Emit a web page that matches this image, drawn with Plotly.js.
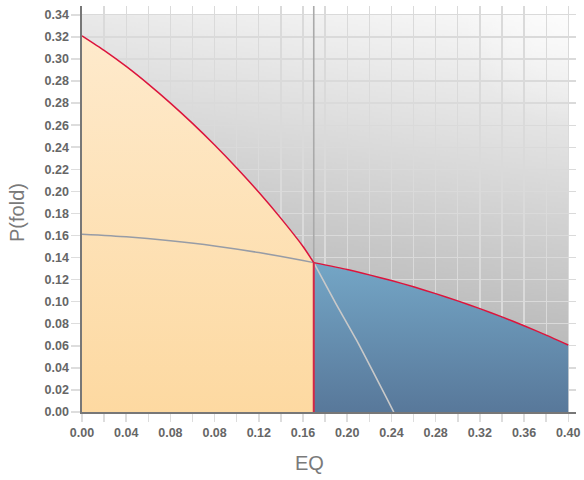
<!DOCTYPE html>
<html>
<head>
<meta charset="utf-8">
<script src="https://cdn.plot.ly/plotly-3.0.1.min.js"></script>
<style>
  html, body { margin: 0; padding: 0; background: #ffffff; }
  #chart { width: 584px; height: 480px; }
</style>
</head>
<body>
<div id="chart"></div>
<script>
// ---- data ----
const xTickLabels = ['0.00','0.04','0.08','0.08','0.12','0.16','0.20','0.24','0.28','0.32','0.36','0.40'];
const yTickLabels = ['0.00','0.02','0.04','0.06','0.08','0.10','0.12','0.14','0.16','0.18','0.20','0.22','0.24','0.26','0.28','0.28','0.30','0.32','0.34'];

// red boundary, left branch (folded region edge)
const redLeftX = [0, 0.02, 0.04, 0.06, 0.08, 0.10, 0.12, 0.14, 0.16, 0.18, 0.20, 0.2097];
const redLeftY = [0.341, 0.3278, 0.3132, 0.2972, 0.2800, 0.2616, 0.2420, 0.2212, 0.1992, 0.1755, 0.1500, 0.1354];

// red boundary, right branch
const redRightX = [0.2097, 0.24, 0.26, 0.28, 0.30, 0.32, 0.34, 0.36, 0.38, 0.40, 0.42, 0.44];
const redRightY = [0.1354, 0.1291, 0.1243, 0.1191, 0.1135, 0.1073, 0.1007, 0.0937, 0.0862, 0.0782, 0.0697, 0.0607];

// grey curve, left branch
const greyLeftX = [0, 0.04, 0.08, 0.12, 0.16, 0.20, 0.2097];
const greyLeftY = [0.1611, 0.1588, 0.1552, 0.1505, 0.1445, 0.1373, 0.1354];

// light grey curve, right branch
const greyRightX = [0.2097, 0.2296, 0.2483, 0.2821];
const greyRightY = [0.1354, 0.0985, 0.0653, 0];

// ---- derived ----
const X_MAX = 0.447, Y_MAX = 0.368;
const step = 0.02;
const xTickVals = [], xTickText = [];
for (let i = 0; i < xTickLabels.length * 2 - 1; i++) {
  xTickVals.push(+(i * step).toFixed(4));
  xTickText.push(i % 2 === 0 ? xTickLabels[i / 2] : '');
}
const yTickVals = yTickLabels.map((_, i) => +(i * step).toFixed(4));
const xBgMax = xTickVals[xTickVals.length - 1];
const yBgMax = yTickVals[yTickVals.length - 1];

const xb = redLeftX[redLeftX.length - 1];
const yb = redLeftY[redLeftY.length - 1];

function makeBackground() {
  const W = 486, H = 397;
  const c = document.createElement('canvas');
  c.width = W; c.height = H;
  const g = c.getContext('2d');
  const L = 476;
  const lg = g.createLinearGradient(W, 0, W - 0.175 * L, 0.985 * L);
  lg.addColorStop(0, 'rgb(250,250,250)');
  lg.addColorStop(1, 'rgb(158,158,158)');
  g.fillStyle = lg;
  g.fillRect(0, 0, W, H);
  const rg = g.createRadialGradient(W, 0, 0, W, 0, 110);
  rg.addColorStop(0, 'rgba(255,255,255,0.55)');
  rg.addColorStop(1, 'rgba(255,255,255,0)');
  g.fillStyle = rg;
  g.fillRect(0, 0, W, H);
  return c.toDataURL('image/png');
}

const traces = [
  { // orange (folded) area
    x: redLeftX.concat([xb]), y: redLeftY.concat([0]),
    type: 'scatter', mode: 'lines', fill: 'tozeroy',
    line: { width: 0, color: 'rgba(0,0,0,0)' },
    fillgradient: { type: 'vertical', start: 0, stop: Math.max(...redLeftY),
      colorscale: [[0, '#fdd9a1'], [1, '#feeacc']] },
    hoverinfo: 'skip'
  },
  { // blue (unfolded) area
    x: redRightX, y: redRightY,
    type: 'scatter', mode: 'lines', fill: 'tozeroy',
    line: { width: 0, color: 'rgba(0,0,0,0)' },
    fillgradient: { type: 'vertical', start: 0, stop: Math.max(...redRightY),
      colorscale: [[0, '#58789a'], [1, '#74a6c6']] },
    hoverinfo: 'skip'
  },
  { // vertical grey line above the crossing
    x: [xb, xb], y: [yb, Y_MAX],
    type: 'scatter', mode: 'lines',
    line: { color: '#aaaaaa', width: 1.6 }, hoverinfo: 'skip'
  },
  { // grey curve left
    x: greyLeftX, y: greyLeftY, type: 'scatter', mode: 'lines',
    line: { color: '#979ca6', width: 1.5, shape: 'spline', smoothing: 0.6 }
  },
  { // light grey curve right
    x: greyRightX, y: greyRightY, type: 'scatter', mode: 'lines',
    line: { color: '#c9c9c9', width: 1.6, shape: 'spline', smoothing: 0.6 }
  },
  { // red curve left
    x: redLeftX, y: redLeftY, type: 'scatter', mode: 'lines',
    line: { color: '#dc143c', width: 1.5, shape: 'spline', smoothing: 0.6 }
  },
  { // red curve right
    x: redRightX, y: redRightY, type: 'scatter', mode: 'lines',
    line: { color: '#dc143c', width: 1.5, shape: 'spline', smoothing: 0.6 }
  },
  { // red vertical boundary
    x: [xb, xb], y: [yb, 0], type: 'scatter', mode: 'lines',
    line: { color: '#d42645', width: 2 }
  }
];

const tickFont = { family: 'Liberation Sans, Arial, sans-serif', size: 12.5, color: '#666666', weight: 'bold' };
const titleFont = { family: 'Liberation Sans, Arial, sans-serif', size: 20, color: '#7a7a7a' };

const layout = {
  width: 584, height: 480,
  margin: { l: 82, r: 8, t: 6, b: 68, pad: 0 },
  paper_bgcolor: '#ffffff', plot_bgcolor: '#ffffff',
  showlegend: false,
  xaxis: {
    range: [0, X_MAX], tickmode: 'array', tickvals: xTickVals, ticktext: xTickText,
    ticks: 'outside', ticklen: 8, tickwidth: 1.5, tickcolor: '#dddddd',
    showgrid: true, gridcolor: '#dadada', gridwidth: 1.3,
    zeroline: false, showline: true, linecolor: '#777777', linewidth: 1.6,
    tickfont: tickFont, fixedrange: true
  },
  yaxis: {
    range: [0, Y_MAX], tickmode: 'array', tickvals: yTickVals, ticktext: yTickLabels,
    ticks: 'outside', ticklen: 9, tickwidth: 1.5, tickcolor: '#dddddd',
    showgrid: true, gridcolor: '#dadada', gridwidth: 1.3,
    zeroline: false, showline: true, linecolor: '#777777', linewidth: 1.6,
    tickfont: tickFont, fixedrange: true
  },
  images: [{
    source: makeBackground(), xref: 'x', yref: 'y',
    x: 0, y: yBgMax, sizex: xBgMax, sizey: yBgMax,
    xanchor: 'left', yanchor: 'top', sizing: 'stretch', layer: 'below'
  }],
  annotations: [
    { text: 'EQ', xref: 'paper', yref: 'paper', x: 0.4605, y: -0.125,
      xanchor: 'center', yanchor: 'middle', showarrow: false, font: titleFont },
    { text: 'P(fold)', xref: 'paper', yref: 'paper', x: -0.1316, y: 0.4926,
      xanchor: 'center', yanchor: 'middle', textangle: -90, showarrow: false, font: titleFont }
  ]
};

Plotly.newPlot('chart', traces, layout, { displayModeBar: false, staticPlot: true });
</script>
</body>
</html>
